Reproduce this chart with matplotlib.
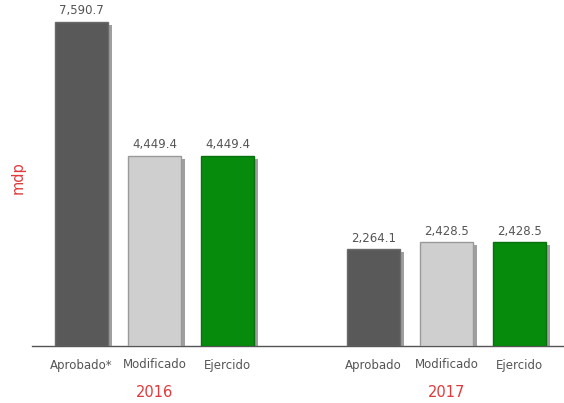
import matplotlib.pyplot as plt
import matplotlib.patheffects as pe

# Data
years = ["2016", "2017"]
categories_2016 = ["Aprobado*", "Modificado", "Ejercido"]
categories_2017 = ["Aprobado", "Modificado", "Ejercido"]
values_2016 = [7590.7, 4449.4, 4449.4]
values_2017 = [2264.1, 2428.5, 2428.5]

colors = ["#595959", "#d0cfd0", "#068b0c"]
edges = ["#6a6a6a", "#9a9a9a", "#0a7010"]
red = "#e0393b"
gray_text = "#555555"

fig = plt.figure(figsize=(5.64, 4.03), dpi=100)
ax = fig.add_axes([32 / 564, 57 / 403, 1 - 32 / 564, 336 / 403])

positions = [0, 1, 2, 4, 5, 6]
values = values_2016 + values_2017
labels = categories_2016 + categories_2017
bar_colors = colors + colors
bar_edges = edges + edges

bars = ax.bar(positions, values, width=0.72, color=bar_colors,
              edgecolor=bar_edges, linewidth=1, zorder=3)
for b in bars:
    b.set_path_effects([pe.SimplePatchShadow(offset=(3, -2), shadow_rgbFace="#777777", alpha=0.7),
                        pe.Normal()])

for x, v in zip(positions, values):
    ax.text(x, v + 110, f"{v:,.1f}", ha="center", va="bottom",
            fontsize=8.5, color=gray_text)

ax.set_xlim(-0.68, 6.61)
ax.set_ylim(0, 7872)
ax.set_xticks(positions)
ax.set_xticklabels(labels, fontsize=8.5, color=gray_text)
ax.tick_params(axis="x", length=0, pad=9)
ax.set_yticks([])

for s in ["top", "right", "left"]:
    ax.spines[s].set_visible(False)
ax.spines["bottom"].set_color("#555555")
ax.spines["bottom"].set_linewidth(1)

# Year labels
for x, y in zip([1, 5], years):
    ax.text(x, -0.137, y, transform=ax.get_xaxis_transform(), ha="center",
            va="center", fontsize=10.5, color=red)

fig.text(18 / 564, 1 - 178 / 403, "mdp", rotation=90, ha="center",
         va="center", fontsize=10.5, color=red)

fig.savefig("out.png", dpi=100)
